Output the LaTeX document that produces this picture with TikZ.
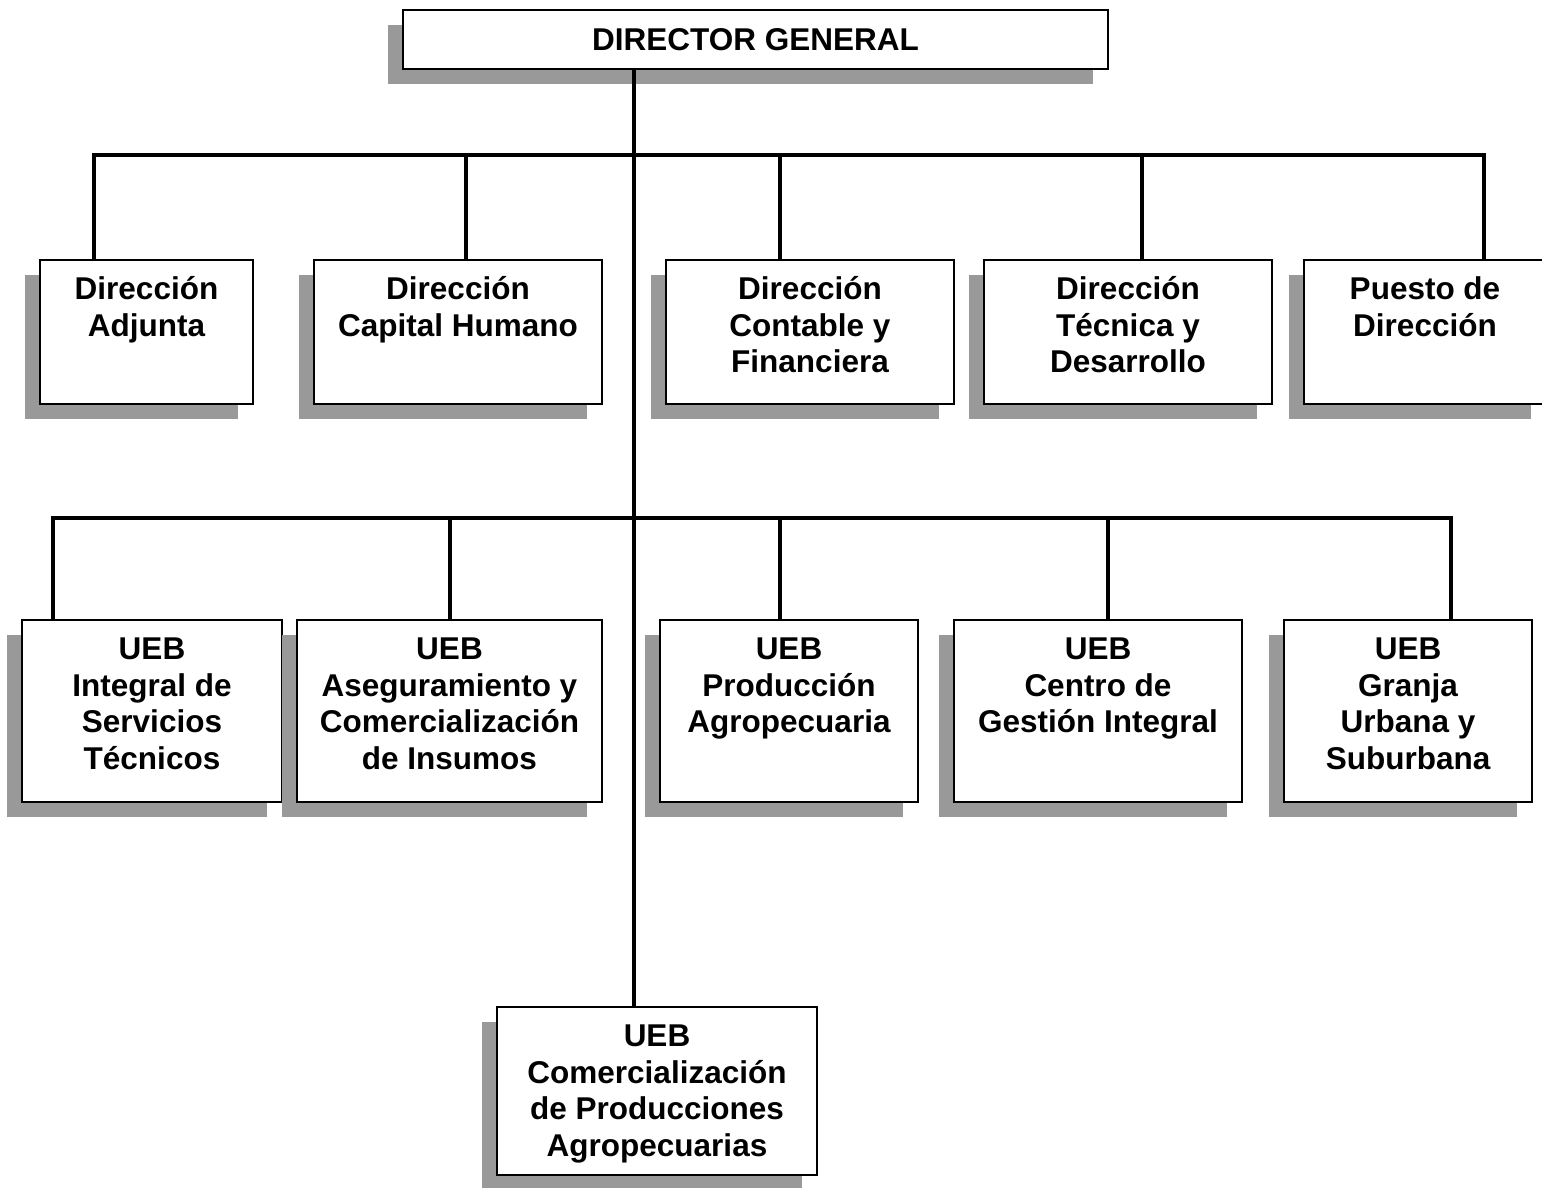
\documentclass[tikz,border=0pt]{standalone}
\usepackage{fontspec}
\setmainfont{Liberation Sans}
\usetikzlibrary{shadows}
\definecolor{shade}{RGB}{153,153,153}
\begin{document}
\begin{tikzpicture}[x=1pt,y=-1pt,
  box/.style={draw=black, line width=2pt, fill=white, rectangle, inner sep=0pt,
    drop shadow={shadow xshift=-15pt, shadow yshift=-15pt, opacity=1, fill=shade, draw=none}},
  lbl/.style={font=\fontsize{31.5}{36.8}\selectfont\bfseries, align=center, inner sep=0pt, anchor=north, yshift=-10pt},
  conn/.style={line width=4.5pt}]
\useasboundingbox (0,0) rectangle (1542,1187);

% top
\node[box, minimum width=705pt, minimum height=59pt, font=\fontsize{31.5}{36.8}\selectfont\bfseries] (dg) at (755.5,39.5) {DIRECTOR GENERAL};

% row 1
\node[box, minimum width=213pt, minimum height=144pt] (a1) at (146.5,332) {};
\node[box, minimum width=288pt, minimum height=144pt] (a2) at (458,332) {};
\node[box, minimum width=288pt, minimum height=144pt] (a3) at (810,332) {};
\node[box, minimum width=288pt, minimum height=144pt] (a4) at (1128,332) {};
\node[box, minimum width=242pt, minimum height=144pt] (a5) at (1425,332) {};

% row 2
\node[box, minimum width=260pt, minimum height=182pt] (b1) at (152,711) {};
\node[box, minimum width=305pt, minimum height=182pt] (b2) at (449.5,711) {};
\node[box, minimum width=258pt, minimum height=182pt] (b3) at (789,711) {};
\node[box, minimum width=288pt, minimum height=182pt] (b4) at (1098,711) {};
\node[box, minimum width=248pt, minimum height=182pt] (b5) at (1408,711) {};

% bottom
\node[box, minimum width=320pt, minimum height=168pt] (c1) at (657,1091) {};

% labels
\node[lbl] (a1t) at (a1.north) {\rule{0pt}{30pt}Dirección\\Adjunta};
\node[lbl] (a2t) at (a2.north) {\rule{0pt}{30pt}Dirección\\Capital Humano};
\node[lbl] (a3t) at (a3.north) {\rule{0pt}{30pt}Dirección\\Contable y\\Financiera};
\node[lbl] (a4t) at (a4.north) {\rule{0pt}{30pt}Dirección\\Técnica y\\Desarrollo};
\node[lbl] (a5t) at (a5.north) {\rule{0pt}{30pt}Puesto de\\Dirección};
\node[lbl] (b1t) at (b1.north) {\rule{0pt}{30pt}UEB\\Integral de\\Servicios\\Técnicos};
\node[lbl] (b2t) at (b2.north) {\rule{0pt}{30pt}UEB\\Aseguramiento y\\Comercialización\\de Insumos};
\node[lbl] (b3t) at (b3.north) {\rule{0pt}{30pt}UEB\\Producción\\Agropecuaria};
\node[lbl] (b4t) at (b4.north) {\rule{0pt}{30pt}UEB\\Centro de\\Gestión Integral};
\node[lbl] (b5t) at (b5.north) {\rule{0pt}{30pt}UEB\\Granja\\Urbana y\\Suburbana};
\node[lbl] (c1t) at (c1.north) {\rule{0pt}{30pt}UEB\\Comercialización\\de Producciones\\Agropecuarias};

% connectors
\coordinate (m) at (634,0);
\draw[conn] (m |- dg.south) -- (m |- c1.north);

\coordinate (l1) at (94,155);
\coordinate (r1) at (1484,155);
\coordinate (t2) at (466,155);
\coordinate (t3) at (780,155);
\coordinate (t4) at (1142,155);
\draw[conn] (l1 |- a1.north) -- (l1) -- (r1) -- (r1 |- a5.north);
\draw[conn] (t2) -- (t2 |- a2.north);
\draw[conn] (t3) -- (t3 |- a3.north);
\draw[conn] (t4) -- (t4 |- a4.north);

\coordinate (l2) at (53,518);
\coordinate (r2) at (1451,518);
\coordinate (u2) at (450,518);
\coordinate (u3) at (780,518);
\coordinate (u4) at (1108,518);
\draw[conn] (l2 |- b1.north) -- (l2) -- (r2) -- (r2 |- b5.north);
\draw[conn] (u2) -- (u2 |- b2.north);
\draw[conn] (u3) -- (u3 |- b3.north);
\draw[conn] (u4) -- (u4 |- b4.north);
\end{tikzpicture}
\end{document}
